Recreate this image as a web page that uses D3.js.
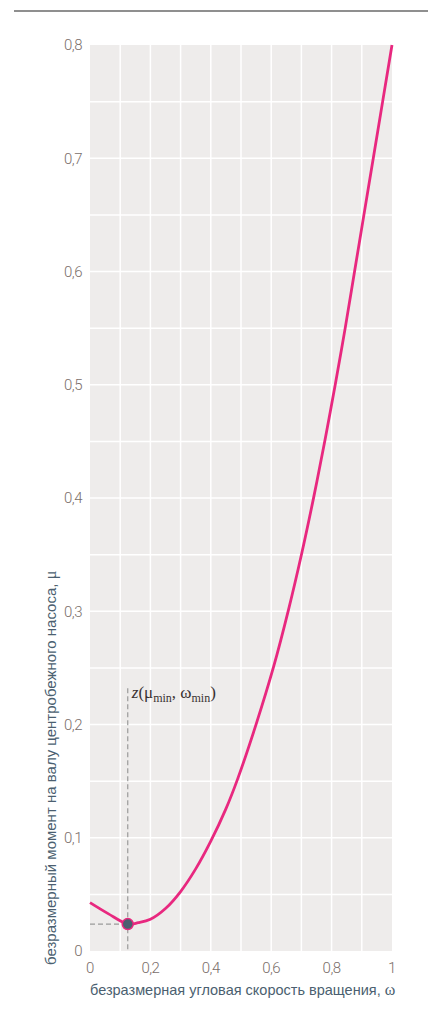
<!DOCTYPE html>
<html>
<head>
<meta charset="utf-8">
<script src="https://cdn.jsdelivr.net/npm/d3@7"></script>
<style>
  body { margin: 0; background: #fff; }
</style>
</head>
<body>
<div id="chart"></div>
<script>
// curve: omega -> mu
const omega = [0, 0.06, 0.125, 0.16, 0.2, 0.25, 0.3, 0.35, 0.4, 0.45, 0.489, 0.551, 0.608,
               0.657, 0.701, 0.741, 0.778, 0.812, 0.845, 0.876, 0.907, 0.938, 0.969, 1];
const mu = [0.0427, 0.033, 0.0238, 0.025, 0.028, 0.0375, 0.0525, 0.0725, 0.097, 0.1255, 0.152, 0.201, 0.251,
            0.301, 0.351, 0.401, 0.451, 0.5, 0.55, 0.6, 0.65, 0.7, 0.75, 0.8];
const minPoint = {omega: 0.125, mu: 0.0238};
const xTicks = [0, 0.2, 0.4, 0.6, 0.8, 1];
const yTicks = [0, 0.1, 0.2, 0.3, 0.4, 0.5, 0.6, 0.7, 0.8];

const width = 429, height = 1014;
const margin = {top: 45, right: 37, bottom: 63, left: 90};

const svg = d3.select("#chart").append("svg")
  .attr("width", width)
  .attr("height", height);

// top rule
svg.append("line")
  .attr("x1", 14).attr("x2", 428)
  .attr("y1", 11).attr("y2", 11)
  .attr("stroke", "#6a6a6a")
  .attr("stroke-width", 1.5);

const x = d3.scaleLinear().domain([0, 1]).range([margin.left, width - margin.right]);
const y = d3.scaleLinear().domain([0, 0.8]).range([height - margin.bottom, margin.top]);

// plot background
svg.append("rect")
  .attr("x", x(0)).attr("y", y(0.8))
  .attr("width", x(1) - x(0))
  .attr("height", y(0) - y(0.8))
  .attr("fill", "#eeeceb");

// grid
const grid = svg.append("g").attr("stroke", "#fff").attr("stroke-width", 1.5);
grid.selectAll(".vx").data(d3.range(1, 10).map(d => d / 10)).join("line")
  .attr("x1", d => x(d)).attr("x2", d => x(d))
  .attr("y1", y(0.8)).attr("y2", y(0));
grid.selectAll(".hy").data(d3.range(1, 16).map(d => d * 0.05)).join("line")
  .attr("x1", x(0)).attr("x2", x(1))
  .attr("y1", d => y(d)).attr("y2", d => y(d));

const fmt = d => String(+d.toFixed(1)).replace(".", ",");

// y tick labels
svg.append("g")
  .selectAll("text").data(yTicks).join("text")
  .attr("x", x(0) - 8)
  .attr("y", d => y(d))
  .attr("dy", "0.35em")
  .attr("text-anchor", "end")
  .attr("fill", "#7a6e6a")
  .style("font", "300 15px Roboto, sans-serif")
  .style("letter-spacing", "-0.5px")
  .text(fmt);

// x tick labels
svg.append("g")
  .selectAll("text").data(xTicks).join("text")
  .attr("x", d => x(d))
  .attr("y", y(0) + 22)
  .attr("text-anchor", "middle")
  .attr("fill", "#7a6e6a")
  .style("font", "300 15px Roboto, sans-serif")
  .style("letter-spacing", "-0.5px")
  .text(fmt);

// axis titles
const xt = svg.append("text")
  .attr("x", x(0))
  .attr("y", 995)
  .attr("fill", "#4b5f70")
  .style("font", "14.5px 'Liberation Sans', Arial, sans-serif");
xt.append("tspan").text("безразмерная угловая скорость вращения, ");
xt.append("tspan").style("font", "16px 'Liberation Serif', serif").text("ω");

const yt = svg.append("text")
  .attr("transform", "translate(56,965) rotate(-90)")
  .attr("fill", "#4b5f70")
  .style("font", "15px 'Liberation Sans', Arial, sans-serif");
yt.append("tspan").text("безразмерный момент на валу центробежного насоса, ");
yt.append("tspan").style("font", "16px 'Liberation Serif', serif").text("μ");

// dashed guides to the minimum
svg.append("line")
  .attr("x1", x(minPoint.omega)).attr("x2", x(minPoint.omega))
  .attr("y1", y(0.232)).attr("y2", y(0))
  .attr("stroke", "#9a9a9a").attr("stroke-width", 1.2)
  .attr("stroke-dasharray", "5,3");
svg.append("line")
  .attr("x1", x(0)).attr("x2", x(minPoint.omega))
  .attr("y1", y(minPoint.mu)).attr("y2", y(minPoint.mu))
  .attr("stroke", "#9a9a9a").attr("stroke-width", 1.2)
  .attr("stroke-dasharray", "5,3");

// curve
const pts = omega.map((w, i) => [w, mu[i]]);
svg.append("path")
  .datum(pts)
  .attr("fill", "none")
  .attr("stroke", "#e8287f")
  .attr("stroke-width", 2.8)
  .attr("d", d3.line().x(d => x(d[0])).y(d => y(d[1])).curve(d3.curveCatmullRom.alpha(0.5)));

svg.append("circle")
  .attr("cx", x(minPoint.omega)).attr("cy", y(minPoint.mu))
  .attr("r", 5.5)
  .attr("fill", "#4b5f70")
  .attr("stroke", "#e8287f")
  .attr("stroke-width", 1.5);

// annotation z(mu_min, omega_min)
const ann = svg.append("text")
  .attr("x", x(minPoint.omega) + 4)
  .attr("y", 698)
  .attr("fill", "#3a3232")
  .style("font", "17px 'Liberation Serif', 'DejaVu Serif', serif");
ann.append("tspan").style("font-style", "italic").text("z");
ann.append("tspan").text("(μ");
ann.append("tspan").attr("dy", 4).style("font-size", "12px").text("min");
ann.append("tspan").attr("dy", -4).text(", ω");
ann.append("tspan").attr("dy", 4).style("font-size", "12px").text("min");
ann.append("tspan").attr("dy", -4).text(")");
</script>
</body>
</html>
